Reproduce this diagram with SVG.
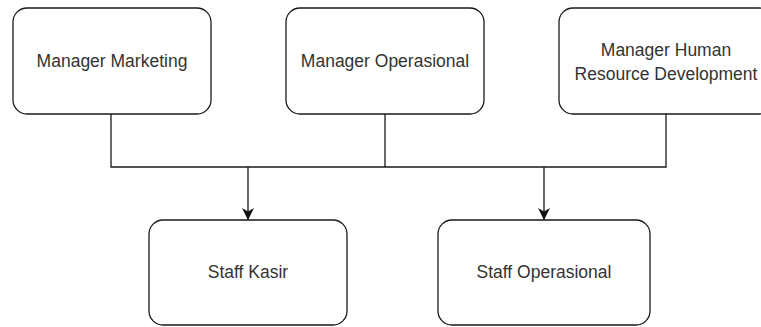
<svg xmlns="http://www.w3.org/2000/svg" width="761" height="327" viewBox="0 0 761 327">
<defs>
<style>
.box{fill:#fff;stroke:#1a1a1a;stroke-width:1.3}
.lbl{font-family:"Liberation Sans",Arial,sans-serif;font-size:17.5px;fill:#333;text-anchor:middle}
.con{fill:none;stroke:#1a1a1a;stroke-width:1.3}
</style>
<marker id="arr" viewBox="0 0 12 12" refX="12" refY="6" markerWidth="12" markerHeight="12" markerUnits="userSpaceOnUse" orient="auto">
<path d="M0,0 L12,6 L0,12 L3.5,6 Z" fill="#111"/>
</marker>
</defs>
<rect width="761" height="327" fill="#fff"/>
<g id="connectors">
<path class="con" d="M111,114 V167 H666 V114"/>
<path class="con" d="M385,114 V167"/>
<path class="con" d="M248,167 V220" marker-end="url(#arr)"/>
<path class="con" d="M544,167 V220" marker-end="url(#arr)"/>
</g>
<g id="mgr-marketing">
<rect class="box" x="13" y="8" width="198" height="106" rx="14"/>
<text class="lbl" x="112" y="67">Manager Marketing</text>
</g>
<g id="mgr-operasional">
<rect class="box" x="286" y="8" width="198" height="106" rx="14"/>
<text class="lbl" x="385" y="67">Manager Operasional</text>
</g>
<g id="mgr-hrd">
<rect class="box" x="559" y="8" width="214" height="106" rx="14"/>
<text class="lbl" x="666" y="56">Manager Human</text>
<text class="lbl" x="666" y="80">Resource Development</text>
</g>
<g id="staff-kasir">
<rect class="box" x="149" y="220" width="198" height="105" rx="14"/>
<text class="lbl" x="248" y="278">Staff Kasir</text>
</g>
<g id="staff-operasional">
<rect class="box" x="438" y="220" width="212" height="105" rx="14"/>
<text class="lbl" x="544" y="278">Staff Operasional</text>
</g>
</svg>
